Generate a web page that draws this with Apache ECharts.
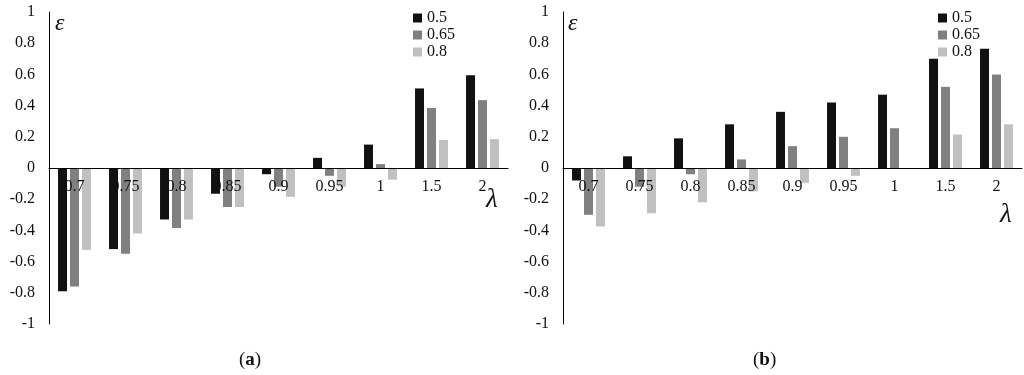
<!DOCTYPE html>
<html>
<head>
<meta charset="utf-8">
<script src="https://cdn.jsdelivr.net/npm/echarts@6/dist/echarts.min.js"></script>
<style>
html,body{margin:0;padding:0;background:#fff;}
#c{width:1024px;height:375px;}
</style>
</head>
<body>
<div id="c"></div>
<script>
const categories = ['0.7','0.75','0.8','0.85','0.9','0.95','1','1.5','2'];
const seriesNames = ['0.5','0.65','0.8'];
// Panel (a)
const a_05  = [-0.79, -0.52, -0.33, -0.165, -0.04, 0.065, 0.15, 0.51, 0.595];
const a_065 = [-0.76, -0.55, -0.385, -0.25, -0.12, -0.05, 0.025, 0.385, 0.435];
const a_08  = [-0.525, -0.42, -0.33, -0.25, -0.185, -0.12, -0.075, 0.18, 0.185];
// Panel (b)
const b_05  = [-0.08, 0.075, 0.19, 0.28, 0.36, 0.42, 0.47, 0.70, 0.765];
const b_065 = [-0.30, -0.12, -0.04, 0.055, 0.14, 0.20, 0.255, 0.52, 0.60];
const b_08  = [-0.375, -0.29, -0.22, -0.15, -0.095, -0.05, 0, 0.215, 0.28];
const yMin = -1, yMax = 1, yStep = 0.2;

const colors = ['#111111', '#808080', '#c0c0c0'];
const font = 'Liberation Serif';
const gridH = 312;

const chart = echarts.init(document.getElementById('c'), null, {renderer: 'canvas'});

function xAxis(gi) {
  return {
    type: 'category', gridIndex: gi, data: categories,
    position: 'bottom', z: 6,
    offset: -gridH * (0 - yMin) / (yMax - yMin),
    axisLine: {onZero: false, lineStyle: {color: '#000', width: 1}},
    axisTick: {show: false},
    axisLabel: {interval: 0, margin: 11, fontFamily: font, fontSize: 16, color: '#111'},
    splitLine: {show: false}
  };
}
function yAxis(gi) {
  return {
    type: 'value', gridIndex: gi, min: yMin, max: yMax, interval: yStep,
    axisLine: {show: true, lineStyle: {color: '#000', width: 1}},
    axisTick: {show: false},
    splitLine: {show: false},
    axisLabel: {margin: 14, fontFamily: font, fontSize: 16, color: '#111',
      formatter: v => String(Math.round(v * 10) / 10)}
  };
}
function bar(name, data, idx, gi) {
  return {
    type: 'bar', name: name, data: data, xAxisIndex: gi, yAxisIndex: gi,
    barWidth: 9, barGap: '33%', z: 2,
    itemStyle: {color: colors[idx]}, silent: true
  };
}
function legend(left) {
  return {
    data: seriesNames, orient: 'vertical', left: left, top: 5,
    icon: 'rect', itemWidth: 9, itemHeight: 9, itemGap: 1,
    textStyle: {fontFamily: font, fontSize: 16, color: '#111'},
    selectedMode: false
  };
}
function sym(t, x, y, size) {
  return {type: 'text', left: x, top: y, z: 10,
    style: {text: t, fontFamily: font, fontStyle: 'italic', fontSize: size, fill: '#111'}};
}
function caption(letter, x) {
  return {type: 'text', left: x, top: 351, style: {text: '{p|(}{b|' + letter + '}{p|)}', rich: {
    p: {fontFamily: font, fontSize: 19, fill: '#111'},
    b: {fontFamily: font, fontSize: 19, fontWeight: 'bold', fill: '#111'}}}};
}

const option = {
  animation: false,
  backgroundColor: '#fff',
  grid: [
    {left: 49, top: 12, width: 459, height: gridH},
    {left: 563, top: 12, width: 459, height: gridH}
  ],
  xAxis: [xAxis(0), xAxis(1)],
  yAxis: [yAxis(0), yAxis(1)],
  legend: [legend(408), legend(933)],
  series: [
    bar(seriesNames[0], a_05, 0, 0),
    bar(seriesNames[1], a_065, 1, 0),
    bar(seriesNames[2], a_08, 2, 0),
    bar(seriesNames[0], b_05, 0, 1),
    bar(seriesNames[1], b_065, 1, 1),
    bar(seriesNames[2], b_08, 2, 1)
  ],
  graphic: [
    sym('ε', 55, 12, 24),
    sym('ε', 568, 12, 24),
    sym('λ', 486, 186, 27),
    sym('λ', 1000, 201, 27),
    caption('a', 239),
    caption('b', 753)
  ]
};
chart.setOption(option);
</script>
</body>
</html>
